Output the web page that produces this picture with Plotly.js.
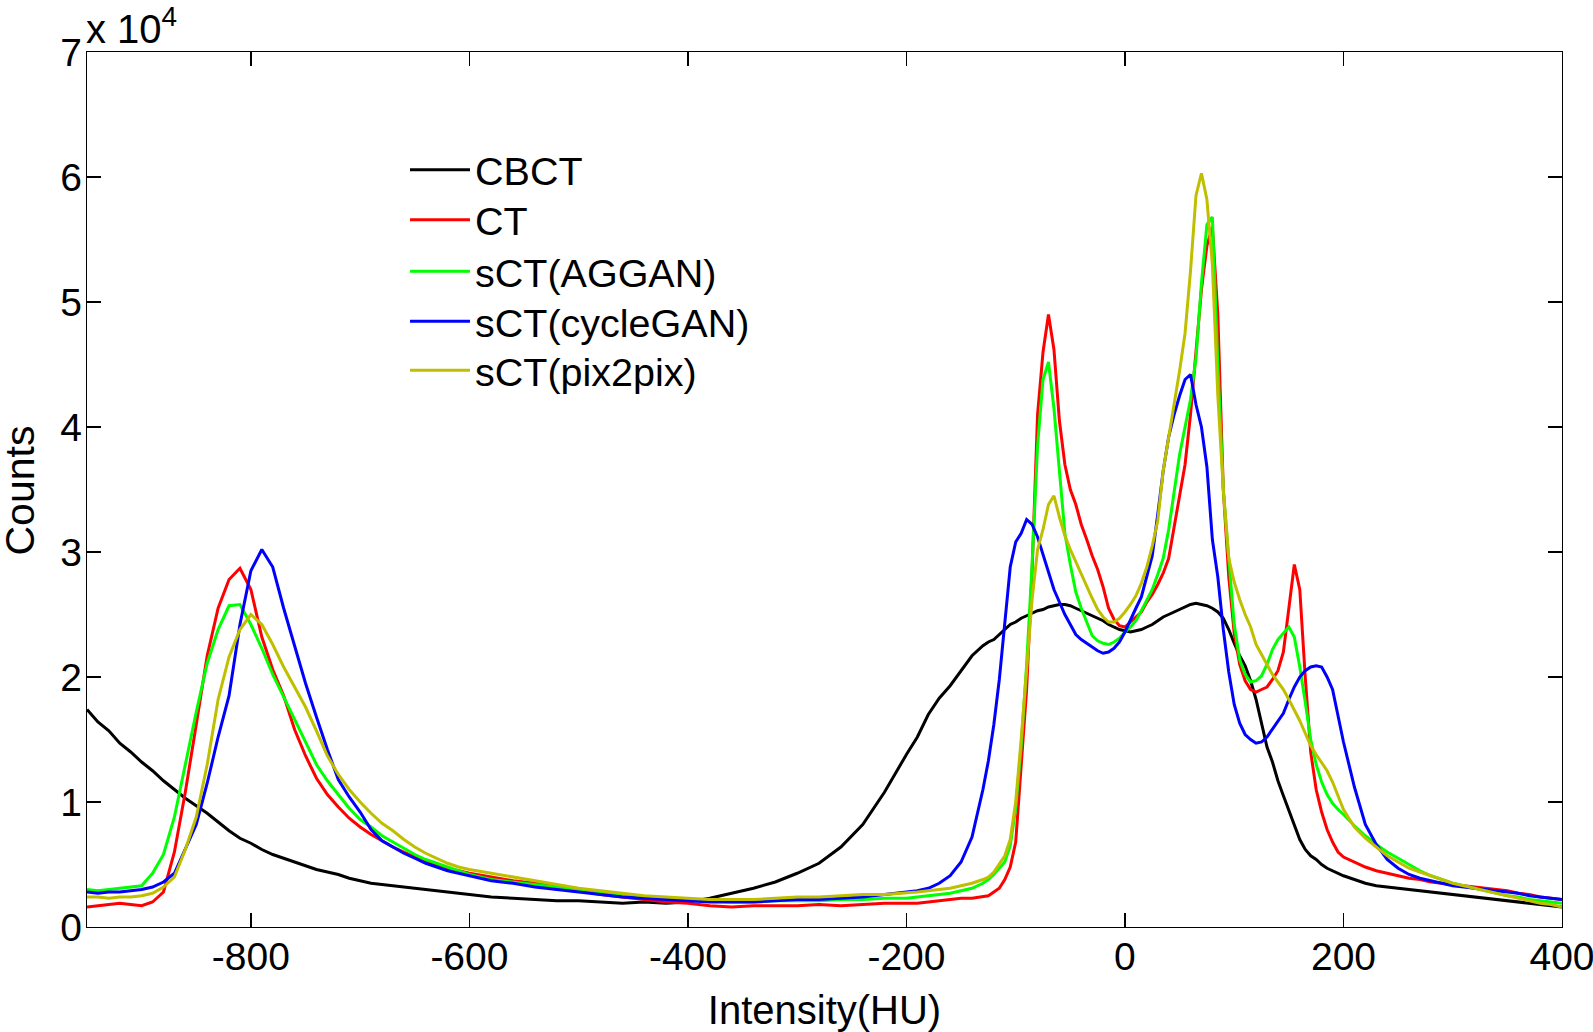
<!DOCTYPE html>
<html>
<head>
<meta charset="utf-8">
<script src="https://cdn.plot.ly/plotly-3.0.1.min.js"></script>
<style>html,body{margin:0;padding:0;background:#fff;overflow:hidden;}#chart{width:1593px;height:1032px;}</style>
</head>
<body>
<div id="chart"></div>
<script>
// Intensity bins (HU)
const intensityHU = [
  -950,-940,-930,-920,-910,-900,-890,-880,-870,-860,-850,-840,-830,-820,-810,-800,-790,-780,-770,-760,-750,-740,-730,-720,-710,-700,-690,-680,-670,-660,-650,-640,-630,-620,-610,-600,
  -580,-560,-540,-520,-500,-480,-460,-440,-420,-400,-380,-360,-340,-320,-300,-280,-260,-240,-220,-200,
  -190,-180,-170,-160,-150,-140,-130,
  -125,-120,-115,-110,-105,-100,-95,-90,-85,-80,-75,-70,-65,-60,-55,-50,-45,-40,-35,-30,-25,-20,-15,-10,-5,0,5,10,15,20,25,30,35,40,45,50,55,60,65,70,75,80,85,90,95,100,105,110,115,120,125,130,135,140,145,150,155,160,165,170,175,180,185,190,195,200,
  210,220,230,240,250,260,270,280,290,300,310,320,330,340,350,360,370,380,390,400
];

// Counts, in units of 10^4
const cbct = [
  1.74,1.64,1.57,1.47,1.40,1.32,1.25,1.17,1.10,1.03,0.97,0.91,0.84,0.77,0.71,0.67,0.62,0.58,0.55,0.52,0.49,0.46,0.44,0.42,0.39,0.37,0.35,0.34,0.33,0.32,0.31,0.30,0.29,0.28,0.27,0.26,
  0.24,0.23,0.22,0.21,0.21,0.20,0.19,0.20,0.19,0.20,0.23,0.27,0.31,0.36,0.43,0.51,0.64,0.82,1.08,1.38,
  1.52,1.70,1.83,1.93,2.05,2.17,2.25,
  2.28,2.30,2.34,2.38,2.42,2.44,2.47,2.49,2.51,2.53,2.54,2.56,2.57,2.58,2.58,2.57,2.55,2.53,2.51,2.49,2.47,2.45,2.42,2.40,2.38,2.37,2.36,2.37,2.38,2.40,2.42,2.45,2.48,2.50,2.52,2.54,2.56,2.58,2.59,2.58,2.57,2.55,2.52,2.47,2.38,2.27,2.17,2.09,1.97,1.82,1.64,1.44,1.32,1.17,1.05,0.93,0.82,0.70,0.62,0.57,0.54,0.50,0.47,0.45,0.43,0.41,
  0.38,0.35,0.33,0.32,0.31,0.30,0.29,0.28,0.27,0.26,0.25,0.24,0.23,0.22,0.21,0.20,0.19,0.18,0.17,0.16
];
const ct = [
  0.16,0.17,0.18,0.19,0.18,0.17,0.20,0.28,0.60,1.08,1.62,2.17,2.55,2.78,2.87,2.70,2.32,2.06,1.85,1.58,1.37,1.19,1.06,0.96,0.87,0.80,0.74,0.69,0.64,0.60,0.56,0.52,0.49,0.47,0.45,0.43,
  0.40,0.37,0.35,0.32,0.29,0.26,0.24,0.22,0.20,0.19,0.17,0.16,0.17,0.17,0.17,0.18,0.17,0.18,0.19,0.19,
  0.19,0.20,0.21,0.22,0.23,0.23,0.24,
  0.25,0.28,0.31,0.38,0.48,0.68,1.30,1.90,2.85,4.10,4.60,4.90,4.62,4.05,3.70,3.50,3.38,3.22,3.10,2.97,2.86,2.72,2.55,2.46,2.41,2.40,2.44,2.48,2.52,2.60,2.66,2.74,2.83,2.95,3.20,3.45,3.70,4.10,4.60,5.10,5.45,5.60,4.90,3.50,2.80,2.35,2.10,1.97,1.90,1.88,1.90,1.92,1.98,2.05,2.20,2.55,2.90,2.70,2.00,1.40,1.10,0.92,0.78,0.68,0.60,0.56,
  0.52,0.48,0.45,0.43,0.41,0.39,0.38,0.36,0.35,0.34,0.33,0.32,0.31,0.30,0.29,0.27,0.26,0.24,0.23,0.22
];
const sctAGGAN = [
  0.30,0.29,0.30,0.31,0.32,0.33,0.43,0.58,0.88,1.30,1.72,2.11,2.38,2.57,2.58,2.42,2.23,2.02,1.84,1.66,1.48,1.30,1.17,1.06,0.95,0.86,0.80,0.73,0.68,0.63,0.58,0.54,0.51,0.48,0.45,0.42,
  0.38,0.36,0.34,0.32,0.30,0.28,0.26,0.24,0.23,0.22,0.21,0.20,0.20,0.21,0.21,0.21,0.22,0.22,0.23,0.23,
  0.24,0.25,0.26,0.27,0.29,0.31,0.35,
  0.38,0.42,0.47,0.52,0.65,0.95,1.45,2.10,2.90,3.85,4.38,4.52,4.15,3.65,3.15,2.90,2.68,2.55,2.44,2.33,2.29,2.27,2.26,2.28,2.31,2.36,2.40,2.45,2.53,2.62,2.70,2.82,2.95,3.18,3.50,3.78,4.00,4.22,4.55,5.15,5.62,5.68,4.50,3.50,2.95,2.42,2.14,2.02,1.96,1.97,2.01,2.10,2.22,2.30,2.35,2.40,2.32,2.08,1.80,1.50,1.30,1.16,1.06,0.99,0.94,0.90,
  0.81,0.73,0.66,0.60,0.55,0.50,0.45,0.41,0.38,0.35,0.33,0.31,0.29,0.27,0.25,0.24,0.22,0.21,0.20,0.19
];
const sctCycleGAN = [
  0.28,0.27,0.28,0.28,0.29,0.30,0.32,0.36,0.43,0.62,0.82,1.15,1.52,1.85,2.42,2.85,3.02,2.88,2.55,2.25,1.95,1.68,1.42,1.18,1.04,0.92,0.78,0.69,0.64,0.59,0.55,0.51,0.48,0.45,0.43,0.41,
  0.37,0.35,0.32,0.30,0.28,0.26,0.24,0.23,0.22,0.21,0.20,0.20,0.20,0.21,0.22,0.22,0.23,0.24,0.26,0.28,
  0.29,0.31,0.35,0.41,0.52,0.72,1.10,
  1.33,1.62,1.98,2.42,2.88,3.08,3.15,3.26,3.22,3.12,2.98,2.84,2.70,2.60,2.50,2.42,2.34,2.30,2.27,2.24,2.21,2.19,2.20,2.23,2.28,2.36,2.46,2.55,2.64,2.80,2.97,3.30,3.65,3.92,4.10,4.25,4.38,4.42,4.18,4.00,3.68,3.10,2.80,2.38,2.04,1.78,1.63,1.54,1.50,1.47,1.48,1.52,1.58,1.64,1.71,1.82,1.92,2.00,2.05,2.08,2.09,2.08,2.00,1.90,1.68,1.48,
  1.12,0.82,0.66,0.54,0.47,0.42,0.39,0.37,0.35,0.33,0.32,0.31,0.30,0.29,0.28,0.27,0.25,0.24,0.23,0.22
];
const sctPix2pix = [
  0.24,0.24,0.23,0.24,0.24,0.25,0.27,0.32,0.40,0.62,0.88,1.30,1.82,2.16,2.38,2.50,2.42,2.26,2.08,1.92,1.76,1.57,1.37,1.22,1.10,1.00,0.91,0.83,0.77,0.70,0.64,0.59,0.55,0.51,0.48,0.46,
  0.43,0.40,0.37,0.34,0.31,0.29,0.27,0.25,0.24,0.23,0.22,0.22,0.22,0.23,0.24,0.24,0.25,0.26,0.26,0.27,
  0.28,0.29,0.30,0.31,0.33,0.35,0.38,
  0.40,0.44,0.50,0.57,0.70,1.00,1.50,2.05,2.62,3.02,3.18,3.38,3.45,3.28,3.13,3.02,2.92,2.82,2.72,2.63,2.54,2.48,2.44,2.44,2.47,2.52,2.58,2.65,2.75,2.88,3.05,3.25,3.65,3.92,4.16,4.45,4.75,5.25,5.85,6.03,5.82,5.30,4.25,3.50,2.95,2.76,2.62,2.50,2.40,2.26,2.18,2.10,2.02,1.96,1.90,1.82,1.74,1.65,1.55,1.45,1.38,1.32,1.25,1.16,1.05,0.94,
  0.80,0.71,0.64,0.57,0.52,0.47,0.44,0.41,0.38,0.35,0.33,0.31,0.29,0.27,0.25,0.23,0.21,0.19,0.18,0.16
];

const seriesNames = ['CBCT', 'CT', 'sCT(AGGAN)', 'sCT(cycleGAN)', 'sCT(pix2pix)'];
const seriesValues = [cbct, ct, sctAGGAN, sctCycleGAN, sctPix2pix];
const seriesColors = ['#000000', '#ff0000', '#00ff00', '#0000ff', '#bfbf00'];

const xTickVals = [-800, -600, -400, -200, 0, 200, 400];
const xTickText = ['-800', '-600', '-400', '-200', '0', '200', '400'];
const yTickVals = [0, 1, 2, 3, 4, 5, 6, 7];
const yTickText = ['0', '1', '2', '3', '4', '5', '6', '7'];

const FONT = 'Liberation Sans, Arial, Helvetica, sans-serif';
const legendIds = ['legend', 'legend2', 'legend3', 'legend4', 'legend5'];
// vertical position (paper) of each legend row
const legendRowY = [0.865, 0.808, 0.749, 0.692, 0.636];

const traces = seriesNames.map((name, i) => ({
  type: 'scatter',
  mode: 'lines',
  name: name,
  x: intensityHU,
  y: seriesValues[i],
  legend: legendIds[i],
  line: { color: seriesColors[i], width: 3 }
}));

const layout = {
  width: 1593,
  height: 1032,
  margin: { l: 87, r: 31, t: 52, b: 105, pad: 0 },
  paper_bgcolor: '#ffffff',
  plot_bgcolor: '#ffffff',
  font: { family: FONT, size: 39, color: '#000000' },
  showlegend: true,
  xaxis: {
    range: [-950, 400],
    tickmode: 'array', tickvals: xTickVals, ticktext: xTickText,
    ticks: 'inside', ticklen: 14, tickwidth: 1.3, tickcolor: '#000',
    showline: true, linecolor: '#000', linewidth: 1.3, mirror: 'ticks',
    showgrid: false, zeroline: false,
    ticklabelstandoff: -5,
    ticklabeloverflow: 'allow',
    tickfont: { family: FONT, size: 39 },
    title: { text: 'Intensity(HU)', font: { family: FONT, size: 40 }, standoff: 26 }
  },
  yaxis: {
    range: [0, 7],
    tickmode: 'array', tickvals: yTickVals, ticktext: yTickText,
    ticks: 'inside', ticklen: 14, tickwidth: 1.3, tickcolor: '#000',
    showline: true, linecolor: '#000', linewidth: 1.3, mirror: 'ticks',
    showgrid: false, zeroline: false,
    ticklabelstandoff: -4,
    ticklabeloverflow: 'allow',
    tickfont: { family: FONT, size: 39 }
  },
  annotations: [{
    xref: 'paper', yref: 'paper', x: 0, y: 1,
    xanchor: 'left', yanchor: 'bottom', xshift: -3, yshift: -1,
    showarrow: false,
    text: 'x 10<sup>4</sup>',
    font: { family: FONT, size: 40, color: '#000' }
  }, {
    xref: 'paper', yref: 'paper', x: 0, y: 0.5,
    xanchor: 'center', yanchor: 'middle', xshift: -68, yshift: -1,
    textangle: -90, showarrow: false,
    text: 'Counts',
    font: { family: FONT, size: 41, color: '#000' }
  }]
};

legendIds.forEach((id, i) => {
  layout[id] = {
    x: 0.2156, y: legendRowY[i], xanchor: 'left', yanchor: 'middle',
    bgcolor: 'rgba(0,0,0,0)', borderwidth: 0,
    font: { family: FONT, size: 39.5, color: '#000000' },
    itemwidth: 60
  };
});

Plotly.newPlot('chart', traces, layout, { displayModeBar: false, staticPlot: true });
</script>
</body>
</html>
